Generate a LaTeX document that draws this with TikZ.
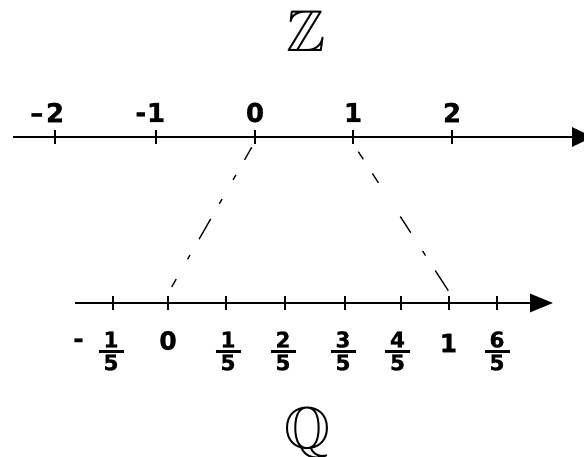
\documentclass[tikz,border=0pt]{standalone}
\usepackage{amssymb}
\usepackage{fontspec}
\setmainfont{DejaVu Sans}
\newfontfamily\handfont{DejaVu Sans}[BoldFeatures={FakeBold=1.2}]
\usetikzlibrary{arrows.meta}
\begin{document}
\begin{tikzpicture}[x=1pt,y=-1pt,
  axisline/.style={line width=2.7pt,-{Triangle[length=21pt,width=19pt]}},
  tickmark/.style={line width=2.2pt},
  link/.style={line width=1.3pt},
  toplab/.style={font=\handfont\bfseries,inner sep=0pt,scale=2.6},
  botlab/.style={font=\handfont\bfseries,inner sep=0pt,scale=2.5},
  fraclab/.style={font=\handfont\bfseries,inner sep=0pt,scale=2.15},
  setname/.style={inner sep=0pt,scale=5.9},
]
\useasboundingbox (0,0) rectangle (584,457);

% set symbols
\node[setname] (Z) at (306,31) {$\mathbb{Z}$};
\node[setname] (Q) at (307,433) {$\mathbb{Q}$};

% top axis (integers)
\coordinate (zs) at (13,137);
\coordinate (ze) at (593,137);
\draw[axisline] (zs) -- (ze);
\foreach \x/\l [count=\i] in {55/\llap{–\kern1pt}2,156/\llap{-\kern0.3pt}1,255/0,353/1,452/2}{
  \coordinate (zt\i) at (\x,137);
  \node[toplab] (zl\i) at (\x,112.5) {\l};
}
\foreach \x [count=\i] in {55,154,255,353,452}{
  \draw[tickmark] (zt\i) ++(0,-7) -- ++(0,14);
}

% bottom axis (rationals)
\coordinate (qs) at (75,303);
\coordinate (qe) at (553,303);
\draw[axisline,-{Triangle[length=23pt,width=18pt]}] (qs) -- (qe);
\foreach \x [count=\i] in {113,168,226,285,345,401,449,497}{
  \coordinate (qt\i) at (\x,303);
  \draw[tickmark] (qt\i) ++(0,-7) -- ++(0,14);
}

% bottom labels
\node[botlab] (mminus) at (78.5,343) {-};
\node[botlab] (q0) at (168,340.5) {0};
\node[botlab] (q1) at (448.5,343) {1};
\foreach \x/\n [count=\i] in {111/1,228/1,283/2,343/3,397.5/4,497/6}{
  \node[fraclab] (fn\i) at (\x,339.5) {\n};
  \coordinate (fa\i) at (\x-12.5,351.5);
  \coordinate (fb\i) at (\x+12.5,351.5);
  \draw[line width=2.3pt] (fa\i) -- (fb\i);
  \node[fraclab] (fd\i) at (\x,362.5) {5};
}

% dashed correspondences
\coordinate (L1) at (251.7,147.3);
\coordinate (L2) at (171.7,287);
\draw[link,dash pattern=on 14.3pt off 17.5pt on 5.7pt off 22.2pt on 5.4pt off 17.3pt on 23.5pt off 18.3pt on 4.8pt off 22.9pt on 9.1pt off 20pt] (L1) -- (L2);
\coordinate (R1) at (358.3,151.7);
\coordinate (R2) at (448.3,290.7);
\draw[link,dash pattern=on 9.1pt off 16.9pt on 11.1pt off 40.1pt on 19.3pt off 21.9pt on 5.3pt off 17.9pt on 24pt off 20pt] (R1) -- (R2);
\end{tikzpicture}
\end{document}
